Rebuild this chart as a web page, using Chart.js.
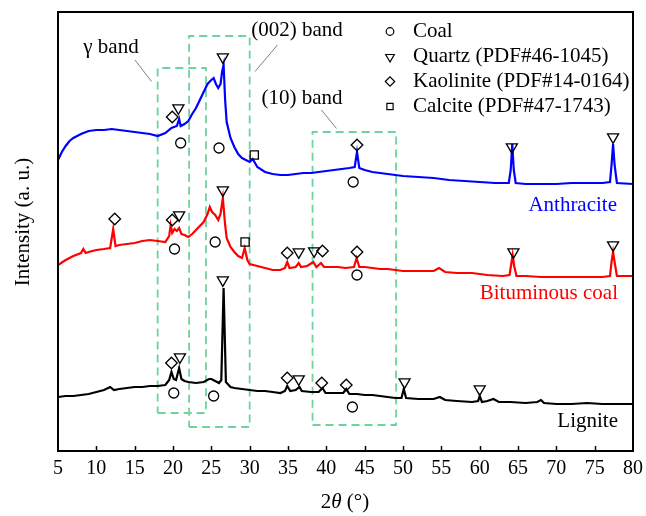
<!DOCTYPE html>
<html><head><meta charset="utf-8">
<script src="https://cdn.jsdelivr.net/npm/chart.js@4/dist/chart.umd.min.js"></script>
<style>html,body{margin:0;padding:0;background:#fff;}</style>
</head><body>
<canvas id="c" width="646" height="516"></canvas>
<script>
// ---- DATA (2θ in degrees, intensity in arbitrary units, curves already offset) ----
const xTickValues = [5,10,15,20,25,30,35,40,45,50,55,60,65,70,75,80];

const anthraciteX = [5.0,5.5,6.0,6.5,7.0,8.0,9.0,10.0,11.0,12.0,13.0,14.0,15.0,16.0,17.0,18.0,19.0,19.8,20.5,20.8,21.0,21.5,22.0,22.5,23.0,23.5,24.0,24.5,25.0,25.3,25.6,25.9,26.2,26.4,26.6,26.8,27.0,27.5,28.0,28.5,29.0,29.5,30.0,30.4,31.0,32.0,33.0,34.0,35.0,36.0,37.0,38.0,39.0,40.0,41.0,42.0,43.0,43.7,44.0,44.3,45.0,46.0,47.0,48.0,49.0,50.0,52.0,54.0,56.0,58.0,60.0,62.0,63.8,64.05,64.25,64.45,64.7,66.0,68.0,70.0,72.0,74.0,76.0,77.0,77.2,77.4,77.6,77.9,80.0];
const anthraciteY = [291,299,305,310,313,317,320,321,321,322,321,320,319,318,317,315,318,323,325,332,325,327,330,337,343,351,359,367,371,373,367,363,367,379,386,351,329,313,304,297,293,291,289,292,284,279,277,276,276,277,278,278,279,280,281,282,283,284,299,283,281,279,278,277,276,275,274,273,271,270,269,268,268,281,307,281,268,267,267,267,268,268,268,269,286,307,286,268,267];

const bituminousX = [5.0,6.0,7.0,8.0,8.3,8.6,9.0,10.0,11.0,11.8,12.2,12.5,13.0,14.0,15.0,16.0,17.0,18.0,19.0,19.5,19.7,19.9,20.2,20.5,20.8,21.1,21.5,22.0,22.5,23.0,23.5,24.0,24.5,24.8,25.1,25.5,25.9,26.2,26.5,26.8,27.0,27.5,28.0,28.5,29.0,29.35,29.7,30.0,31.0,32.0,33.0,34.0,34.6,34.9,35.2,36.0,36.4,36.7,37.5,38.3,38.7,39.3,39.7,40.5,41.5,42.5,43.6,43.95,44.3,45.0,46.0,47.0,48.0,49.0,50.0,52.0,54.0,54.7,55.5,57.0,59.0,61.0,63.0,63.9,64.1,64.3,64.5,64.8,66.0,68.0,70.0,72.0,74.0,76.0,77.0,77.2,77.4,77.6,77.9,80.0];
const bituminousY = [186,191,195,198,202,198,199,201,202,203,222,205,206,207,208,210,211,210,209,215,226,218,222,220,223,217,216,214,217,221,225,229,237,244,239,236,231,237,253,226,213,204,199,195,193,203,191,187,185,183,181,181,183,189,183,184,188,184,185,189,184,188,184,184,184,183,184,193,184,184,183,182,182,181,180,180,180,183,179,178,178,176,175,176,186,196,185,175,175,174,174,174,174,174,175,189,199,189,175,175];

const ligniteX = [5.0,6.0,7.0,8.0,9.0,10.0,11.0,11.8,12.3,13.0,14.0,15.0,16.0,17.0,18.0,19.0,19.5,19.8,20.1,20.4,20.8,21.1,21.5,22.0,23.0,24.0,24.7,25.0,25.5,26.0,26.3,26.6,26.9,27.5,28.0,29.0,30.0,31.0,32.0,33.0,34.0,34.6,34.9,35.3,36.0,36.5,36.8,38.0,39.0,39.5,39.9,41.0,42.2,42.6,43.0,44.0,45.0,46.0,47.0,48.0,49.0,49.8,50.1,50.4,52.0,54.0,54.8,55.5,57.0,59.0,59.8,60.0,60.3,61.0,61.8,62.5,64.0,66.0,67.5,68.0,68.4,70.0,72.0,74.0,76.0,78.0,80.0];
const ligniteY = [54,55,55,56,57,59,61,64,61,62,63,64,64,65,65,66,71,79,72,71,83,72,70,69,68,69,72,72,70,68,71,163,69,64,63,62,61,60,60,59,58,60,65,60,61,64,60,59,59,63,58,58,58,62,57,57,56,56,55,54,53,53,62,53,52,52,54,51,50,49,50,55,49,50,52,49,49,48,49,51,48,47,47,48,47,47,47];

// phase identification marks [2θ, intensity]
const coalMarks      = [[21.0,308],[26.0,303],[43.5,269],[20.2,202],[25.5,209],[44.0,176],[20.1,58],[25.3,55],[43.4,44]];
const quartzMarks    = [[20.7,343],[26.5,394],[64.2,304],[77.4,314],[20.8,236],[26.5,261],[36.4,199],[38.4,200],[64.4,199],[77.4,206],[20.9,94],[26.5,171],[36.4,72],[50.2,69],[60.0,62]];
const kaoliniteMarks = [[19.9,334],[44.0,306],[12.4,232],[19.9,231],[34.9,198],[39.5,200],[44.0,199],[19.8,88],[34.9,73],[39.4,68],[42.6,66]];
const calciteMarks   = [[30.6,296],[29.4,209]];

// band regions [2θ from, 2θ to, intensity bottom, intensity top]
const bandRegions = [[18.0,24.3,38,383],[22.1,30.0,24,415],[38.2,49.1,26,319]];
const bandNames = ['γ band','(002) band','(10) band'];
const seriesNames = ['Anthracite','Bituminous coal','Lignite'];
const legendNames = ['Coal','Quartz (PDF#46-1045)','Kaolinite (PDF#14-0164)','Calcite (PDF#47-1743)'];

// ---- build ----
const pts = (xs, ys) => xs.map((x,i)=>({x:x, y:ys[i]}));
const mp = arr => arr.map(p=>({x:p[0], y:p[1]}));
const FONT = '"Liberation Serif", "Times New Roman", serif';

function rectPts(b){ return [{x:b[0],y:b[2]},{x:b[1],y:b[2]},{x:b[1],y:b[3]},{x:b[0],y:b[3]},{x:b[0],y:b[2]}]; }

const curve = (data,color)=>({type:'scatter',data, showLine:true, borderColor:color, borderWidth:2.2, pointRadius:0, tension:0, order:2});
const mark = (data,style,r,rot)=>({type:'scatter',data, pointStyle:style, pointRadius:r, pointRotation:rot||0, borderColor:'#000', backgroundColor:'rgba(0,0,0,0)', pointBorderWidth:1.3, pointHoverRadius:r, showLine:false, order:0});
const band = b => ({type:'scatter', data:rectPts(b), showLine:true, borderColor:'#6fd39c', borderWidth:1.8, borderDash:[8,5], pointRadius:0, tension:0, order:3});

const datasets = [
  ...bandRegions.map(band),
  curve(pts(anthraciteX,anthraciteY),'#0000ff'),
  curve(pts(bituminousX,bituminousY),'#ff0000'),
  curve(pts(ligniteX,ligniteY),'#000000'),
  mark(mp(coalMarks),'circle',5),
  mark(mp(quartzMarks),'triangle',6.4,180),
  mark(mp(kaoliniteMarks),'rectRot',5.8),
  mark(mp(calciteMarks),'rect',5.8),
];

function drawMarker(ctx,style,x,y,r,rot){
  ctx.save(); ctx.strokeStyle='#000'; ctx.lineWidth=1.2; ctx.fillStyle='rgba(0,0,0,0)';
  Chart.helpers.drawPoint(ctx,{pointStyle:style,rotation:rot||0,radius:r,borderWidth:1.2},x,y);
  ctx.restore();
}

const decor = {
  id:'decor',
  afterDatasetsDraw(chart){
    const ctx = chart.ctx, a = chart.chartArea, xs = chart.scales.x;
    ctx.save();
    // frame
    ctx.strokeStyle='#000'; ctx.lineWidth=2;
    ctx.strokeRect(a.left, a.top, a.right-a.left, a.bottom-a.top);
    // inner ticks
    ctx.lineWidth=1.5;
    xs.ticks.forEach(t=>{
      if (t.value===xs.min || t.value===xs.max) return;
      const px = Math.round(xs.getPixelForValue(t.value))+0.5;
      ctx.beginPath(); ctx.moveTo(px,a.bottom); ctx.lineTo(px,a.bottom-5); ctx.stroke();
    });
    // band labels + leader lines
    ctx.fillStyle='#000'; ctx.font='21px '+FONT; ctx.textAlign='center'; ctx.textBaseline='middle';
    ctx.fillText(bandNames[0],111,47);
    ctx.fillText(bandNames[1],297,30);
    ctx.fillText(bandNames[2],302,98);
    ctx.strokeStyle='#808080'; ctx.lineWidth=1;
    [[135,60,151.5,81.5],[277.5,45,255,71.5],[321.5,110,336.5,128.5]].forEach(l=>{
      ctx.beginPath(); ctx.moveTo(l[0],l[1]); ctx.lineTo(l[2],l[3]); ctx.stroke();
    });
    // series labels
    ctx.textAlign='right';
    ctx.fillStyle='#0000ff'; ctx.fillText(seriesNames[0],617,205);
    ctx.fillStyle='#ff0000'; ctx.fillText(seriesNames[1],618,293);
    ctx.fillStyle='#000000'; ctx.fillText(seriesNames[2],618,421);
    // legend
    const ly=[31.5,56.5,81.5,106.5];
    drawMarker(ctx,'circle',390,ly[0],3.8);
    drawMarker(ctx,'triangle',390,ly[1]+0.5,5,180);
    drawMarker(ctx,'rectRot',390,ly[2],4.7);
    drawMarker(ctx,'rect',390,ly[3],4.4);
    ctx.fillStyle='#000'; ctx.textAlign='left'; ctx.textBaseline='middle'; ctx.font='21px '+FONT;
    legendNames.forEach((n,i)=>ctx.fillText(n,413,ly[i]));
    // y axis title
    ctx.save(); ctx.translate(23,222); ctx.rotate(-Math.PI/2);
    ctx.textAlign='center'; ctx.fillText('Intensity (a. u.)',0,0); ctx.restore();
    // x axis title: 2θ (°)
    ctx.textBaseline='middle'; ctx.textAlign='left';
    const p1='2', p2='θ', p3=' (°)';
    ctx.font='21px '+FONT; const w1=ctx.measureText(p1).width, w3=ctx.measureText(p3).width;
    ctx.font='italic 21px '+FONT; const w2=ctx.measureText(p2).width;
    let x0 = 345 - (w1+w2+w3)/2;
    ctx.font='21px '+FONT; ctx.fillText(p1,x0,502);
    ctx.font='italic 21px '+FONT; ctx.fillText(p2,x0+w1,502);
    ctx.font='21px '+FONT; ctx.fillText(p3,x0+w1+w2,502);
    ctx.restore();
  }
};

new Chart(document.getElementById('c'), {
  type:'scatter',
  data:{datasets},
  options:{
    responsive:false, devicePixelRatio:1, animation:false,
    layout:{padding:{top:12,right:13,left:0,bottom:0}},
    plugins:{legend:{display:false}, tooltip:{enabled:false}},
    scales:{
      x:{type:'linear', min:5, max:80,
         afterBuildTicks: s => { s.ticks = xTickValues.map(v=>({value:v})); },
         ticks:{font:{family:FONT,size:20}, color:'#000', padding:-2, maxRotation:0, autoSkip:false},
         grid:{display:false}, border:{display:false},
         afterFit: s => { s.height = 65; }},
      y:{type:'linear', min:0, max:439,
         ticks:{display:false}, grid:{display:false}, border:{display:false},
         afterFit: s => { s.width = 58; }}
    }
  },
  plugins:[decor]
});
</script>
</body></html>
